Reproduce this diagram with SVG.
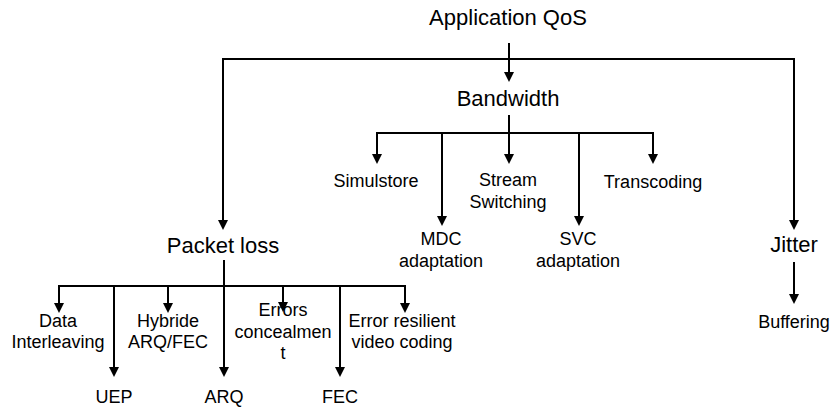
<svg xmlns="http://www.w3.org/2000/svg" width="832" height="407" viewBox="0 0 832 407">
<style>
text{font-family:"Liberation Sans",Arial,sans-serif;fill:#000;text-anchor:middle}
.b{font-size:22px}
.s{font-size:18px}
.c line,.c polyline{stroke:#000;stroke-width:2;fill:none}
.a{marker-end:url(#ah)}
</style>
<defs>
<marker id="ah" viewBox="0 0 10 10" refX="7" refY="5" markerWidth="10" markerHeight="10" markerUnits="userSpaceOnUse" orient="auto">
<path d="M0,0 L10,5 L0,10 z" fill="#000"/>
</marker>
</defs>
<rect width="832" height="407" fill="#fff"/>
<g class="c" id="connectors">
<line class="a" x1="509" y1="43" x2="509" y2="79"/>
<line x1="223" y1="59" x2="794" y2="59"/>
<line class="a" x1="223" y1="58" x2="223" y2="227"/>
<line class="a" x1="794" y1="58" x2="794" y2="227"/>
<line x1="509" y1="115" x2="509" y2="133"/>
<line x1="376" y1="133" x2="654" y2="133"/>
<line class="a" x1="377" y1="132" x2="377" y2="161"/>
<line class="a" x1="442" y1="132" x2="442" y2="223"/>
<line class="a" x1="509" y1="132" x2="509" y2="161"/>
<line class="a" x1="579" y1="132" x2="579" y2="223"/>
<line class="a" x1="653" y1="132" x2="653" y2="161"/>
<line x1="224" y1="260" x2="224" y2="286"/>
<line x1="58" y1="286" x2="406" y2="286"/>
<line class="a" x1="59" y1="285" x2="59" y2="310"/>
<line class="a" x1="114" y1="285" x2="114" y2="374"/>
<line class="a" x1="168" y1="285" x2="168" y2="310"/>
<line class="a" x1="224" y1="285" x2="224" y2="374"/>
<line class="a" x1="283" y1="285" x2="283" y2="309"/>
<line class="a" x1="340" y1="285" x2="340" y2="374"/>
<line class="a" x1="405" y1="285" x2="405" y2="310"/>
<line class="a" x1="794" y1="262" x2="794" y2="301"/>
</g>
<g id="app-qos"><text class="b" x="508" y="25">Application QoS</text></g>
<g id="bandwidth"><text class="b" x="508" y="106">Bandwidth</text></g>
<g id="packet-loss"><text class="b" x="223" y="253">Packet loss</text></g>
<g id="jitter"><text class="b" x="794" y="252">Jitter</text></g>
<g id="simulstore"><text class="s" x="376" y="187">Simulstore</text></g>
<g id="stream-switching"><text class="s" x="508" y="186">Stream</text><text class="s" x="508" y="208">Switching</text></g>
<g id="transcoding"><text class="s" x="653" y="188">Transcoding</text></g>
<g id="mdc"><text class="s" x="441" y="245">MDC</text><text class="s" x="441" y="267">adaptation</text></g>
<g id="svc"><text class="s" x="578" y="245">SVC</text><text class="s" x="578" y="267">adaptation</text></g>
<g id="buffering"><text class="s" x="794" y="328">Buffering</text></g>
<g id="data-interleaving"><text class="s" x="58" y="327">Data</text><text class="s" x="58" y="348">Interleaving</text></g>
<g id="hybride"><text class="s" x="168" y="327">Hybride</text><text class="s" x="168" y="348">ARQ/FEC</text></g>
<g id="errors-concealment"><text class="s" x="283" y="316">Errors</text><text class="s" x="283" y="338">concealmen</text><text class="s" x="283" y="359">t</text></g>
<g id="error-resilient"><text class="s" x="402" y="327">Error resilient</text><text class="s" x="402" y="348">video coding</text></g>
<g id="uep"><text class="s" x="114" y="403">UEP</text></g>
<g id="arq"><text class="s" x="224" y="403">ARQ</text></g>
<g id="fec"><text class="s" x="340" y="403">FEC</text></g>
</svg>
